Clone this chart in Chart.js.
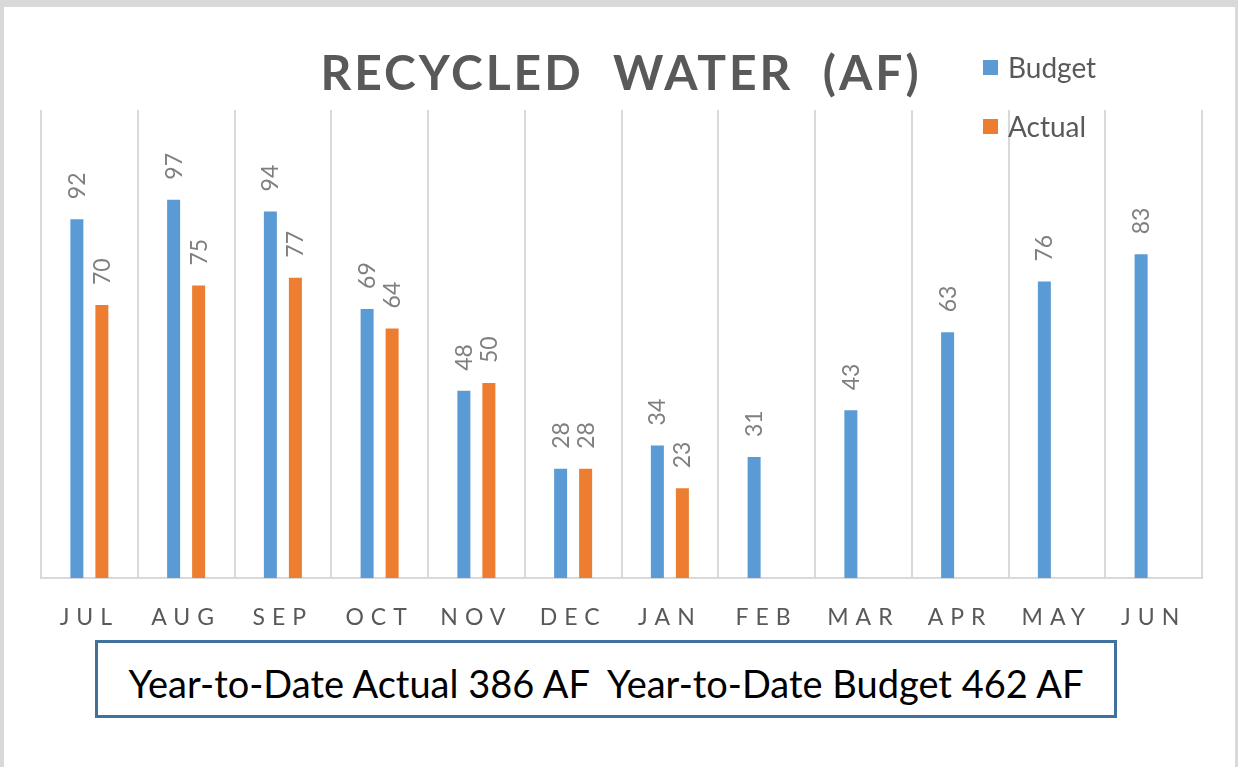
<!DOCTYPE html>
<html>
<head>
<meta charset="utf-8">
<script src="https://cdn.jsdelivr.net/npm/chart.js@4.4.1/dist/chart.umd.min.js"></script>
<style>
  html, body { margin: 0; padding: 0; background: #ffffff; }
  #wrap { position: relative; width: 1238px; height: 767px; overflow: hidden; background: #fff; }
  #frame { position: absolute; left: 0; top: 0; width: 1238px; height: 767px; box-sizing: border-box;
           border-top: 7px solid #d9d9d9; border-left: 4px solid #d9d9d9; border-right: 3px solid #d9d9d9; }
  #chart { position: absolute; left: 0; top: 0; }
  #ytd { position: absolute; left: 95px; top: 640px; width: 1022px; height: 78px; box-sizing: border-box;
         border: 3px solid #41719c; display: flex; align-items: center; justify-content: center; padding-top: 8px;
         font-family: Lato, "Open Sans", sans-serif; font-size: 38px; color: #000; white-space: pre; background: #fff; }
</style>
</head>
<body>
<div id="wrap">
  <div id="frame"></div>
  <canvas id="chart" width="1238" height="767"></canvas>
  <div id="ytd">Year-to-Date Actual 386 AF  Year-to-Date Budget 462 AF</div>
</div>
<script>
const months = ["JUL", "AUG", "SEP", "OCT", "NOV", "DEC", "JAN", "FEB", "MAR", "APR", "MAY", "JUN"];
const budget = [92, 97, 94, 69, 48, 28, 34, 31, 43, 63, 76, 83];
const actual = [70, 75, 77, 64, 50, 28, 23, null, null, null, null, null];
const titleText = "RECYCLED  WATER  (AF)";
const seriesNames = ["Budget", "Actual"];
const seriesColors = ["#5b9bd5", "#ed7d31"];

const decorPlugin = {
  id: "decor",
  beforeDraw(chart) {
    chart.ctx.letterSpacing = "7px";
  },
  beforeDatasetsDraw(chart) {
    chart.ctx.letterSpacing = "0px";
  },
  afterDatasetsDraw(chart) {
    const ctx = chart.ctx;
    ctx.save();
    ctx.letterSpacing = "0px";
    ctx.fillStyle = "#7f7f7f";
    ctx.font = "23px Lato, 'Open Sans', sans-serif";
    ctx.textAlign = "left";
    ctx.textBaseline = "alphabetic";
    chart.data.datasets.forEach((ds, di) => {
      const meta = chart.getDatasetMeta(di);
      meta.data.forEach((el, i) => {
        const v = ds.data[i];
        if (v === null || v === undefined) return;
        ctx.save();
        ctx.translate(el.x, el.y - 20);
        ctx.rotate(-Math.PI / 2);
        ctx.fillText(String(v), 0, 8);
        ctx.restore();
      });
    });
    ctx.restore();
  },
  afterDraw(chart) {
    const ctx = chart.ctx;
    ctx.save();
    // title
    ctx.letterSpacing = "3px";
    ctx.fillStyle = "#595959";
    ctx.font = "bold 48px Lato, 'Open Sans', sans-serif";
    ctx.textAlign = "center";
    ctx.textBaseline = "alphabetic";
    ctx.fillText(titleText, 621, 90);
    // legend
    ctx.letterSpacing = "0px";
    ctx.font = "28px Lato, 'Open Sans', sans-serif";
    ctx.textAlign = "left";
    ctx.textBaseline = "middle";
    const rows = [68, 127];
    chart.data.datasets.forEach((ds, di) => {
      ctx.fillStyle = ds.backgroundColor;
      ctx.fillRect(983, rows[di] - 8, 15, 15);
      ctx.fillStyle = "#595959";
      ctx.fillText(ds.label, 1008, rows[di] + 1);
    });
    ctx.restore();
  }
};

new Chart(document.getElementById("chart"), {
  type: "bar",
  data: {
    labels: months,
    datasets: [
      { label: seriesNames[0], data: budget, backgroundColor: seriesColors[0], borderWidth: 0 },
      { label: seriesNames[1], data: actual, backgroundColor: seriesColors[1], borderWidth: 0 }
    ]
  },
  options: {
    responsive: false,
    devicePixelRatio: 1,
    animation: false,
    layout: { padding: { left: 41, right: 36, top: 110, bottom: 0 } },
    datasets: { bar: { categoryPercentage: 0.517, barPercentage: 0.52 } },
    plugins: {
      legend: { display: false },
      title: { display: false },
      tooltip: { enabled: false }
    },
    scales: {
      x: {
        grid: { display: true, offset: true, color: "#d9d9d9", lineWidth: 2, drawTicks: false },
        border: { display: true, color: "#d9d9d9", width: 2 },
        ticks: { color: "#595959", font: { family: "Lato, 'Open Sans', sans-serif", size: 23 }, padding: 26, maxRotation: 0 },
        afterFit(scale) { scale.height = 189; }
      },
      y: {
        display: false,
        min: 0,
        max: 120
      }
    }
  },
  plugins: [decorPlugin]
});
</script>
</body>
</html>
